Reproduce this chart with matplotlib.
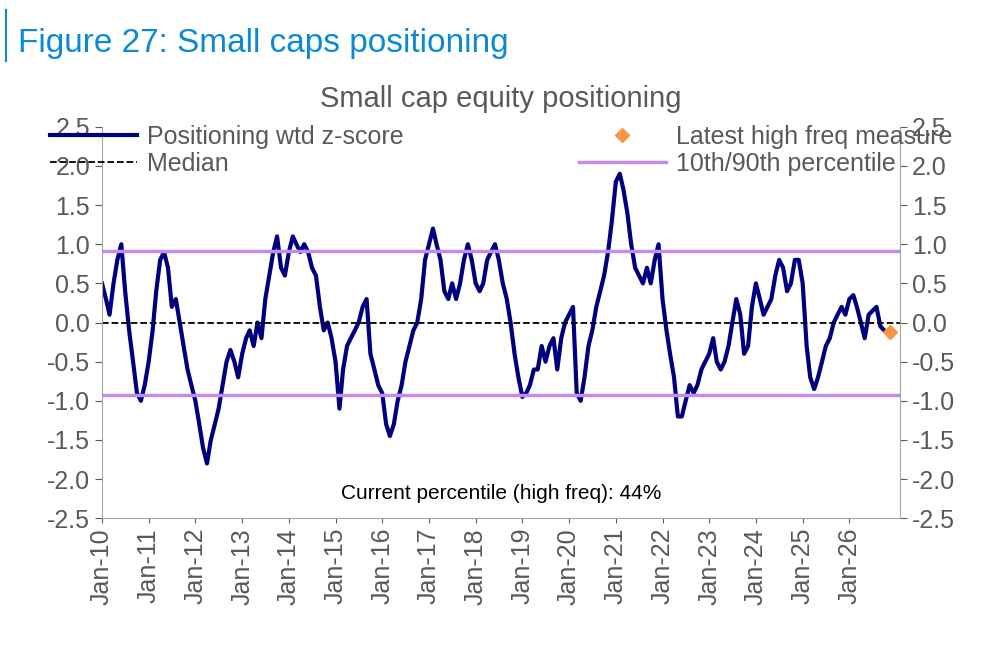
import matplotlib
matplotlib.use("Agg")
import matplotlib.pyplot as plt
import numpy as np
import datetime as dt

plt.rcParams['font.family'] = ['Liberation Sans Narrow', 'Liberation Sans', 'DejaVu Sans']

start_year = 2010
zscore = [
 0.5,0.3,0.1,0.5,0.8,1.0,0.4,-0.1,-0.5,-0.9,-1.0,-0.8,
 -0.5,-0.1,0.4,0.8,0.9,0.7,0.2,0.3,0.0,-0.3,-0.6,-0.8,
 -1.0,-1.3,-1.6,-1.8,-1.5,-1.3,-1.1,-0.8,-0.5,-0.35,-0.5,-0.7,
 -0.4,-0.2,-0.1,-0.3,0.0,-0.2,0.3,0.6,0.9,1.1,0.7,0.6,
 0.9,1.1,1.0,0.9,1.0,0.9,0.7,0.6,0.2,-0.1,0.0,-0.2,
 -0.5,-1.1,-0.6,-0.3,-0.2,-0.1,0.0,0.2,0.3,-0.4,-0.6,-0.8,
 -0.9,-1.3,-1.45,-1.3,-1.0,-0.8,-0.5,-0.3,-0.1,0.0,0.3,0.8,
 1.0,1.2,1.0,0.8,0.4,0.3,0.5,0.3,0.5,0.8,1.0,0.8,
 0.5,0.4,0.5,0.8,0.9,1.0,0.8,0.5,0.3,0.0,-0.4,-0.7,
 -0.95,-0.9,-0.8,-0.6,-0.6,-0.3,-0.5,-0.3,-0.2,-0.6,-0.2,0.0,
 0.1,0.2,-0.9,-1.0,-0.7,-0.3,-0.1,0.2,0.4,0.6,0.9,1.3,
 1.8,1.9,1.7,1.4,1.0,0.7,0.6,0.5,0.7,0.5,0.8,1.0,
 0.3,-0.1,-0.4,-0.7,-1.2,-1.2,-1.0,-0.8,-0.9,-0.8,-0.6,-0.5,
 -0.4,-0.2,-0.5,-0.6,-0.5,-0.3,0.0,0.3,0.1,-0.4,-0.3,0.2,
 0.5,0.3,0.1,0.2,0.3,0.6,0.8,0.7,0.4,0.5,0.8,0.8,
 0.5,-0.3,-0.7,-0.85,-0.7,-0.5,-0.3,-0.2,0.0,0.1,0.2,0.1,
 0.3,0.35,0.2,0.0,-0.2,0.1,0.15,0.2,-0.05,-0.1,
]
median = 0.0
pct10, pct90 = -0.92, 0.92
latest_date = dt.date(2026, 11, 15)
latest_value = -0.12
year_ticks = list(range(2010, 2027))
tick_labels = ["Jan-%02d" % (y % 100) for y in year_ticks]

dates = [dt.date(start_year + i // 12, i % 12 + 1, 1) for i in range(len(zscore))]

grey = "#595959"
fig = plt.figure(figsize=(10, 6.47), dpi=100)
fig.text(0.018, 0.92, "Figure 27: Small caps positioning", color="#0a8ad2", fontsize=24,
         family=['Liberation Sans', 'DejaVu Sans'])
fig.add_artist(plt.Line2D([0.006, 0.006], [0.905, 0.985], color="#0a8ad2", lw=1.5))

ax = fig.add_axes([0.102, 0.199, 0.798, 0.605])
ax.plot(dates, zscore, color="#00007f", lw=3, label="Positioning wtd z-score")
ax.axhline(median, color="black", ls="--", lw=1.3, label="Median")
ax.axhline(pct90, color="#c08cf0", lw=2.5, label="10th/90th percentile")
ax.axhline(pct10, color="#c08cf0", lw=2.5)
ax.plot([latest_date], [latest_value], marker="D", color="#f79646", ms=7, ls="none",
        label="Latest high freq measure")
ax.set_ylim(-2.5, 2.5)
ax.set_xlim(dt.date(2010, 1, 1), dt.date(2027, 2, 1))
ax.set_yticks(np.arange(-2.5, 2.51, 0.5))
ax.set_yticklabels(["%.1f" % v for v in np.arange(-2.5, 2.51, 0.5)])
ax.set_xticks([dt.date(y, 1, 1) for y in year_ticks])
ax.set_xticklabels(tick_labels, rotation=90)
ax.tick_params(colors=grey, labelsize=18, labelcolor=grey)
ax.tick_params(axis="y", labelright=True, right=True, length=5)
ax.spines["top"].set_visible(False)
for s in ["left", "right", "bottom"]:
    ax.spines[s].set_color("#a6a6a6")
ax.set_title("Small cap equity positioning", color=grey, fontsize=21, pad=14)
h, l = ax.get_legend_handles_labels()
order = [0, 1, 3, 2]
ax.legend([h[i] for i in order], [l[i] for i in order], ncol=2, frameon=False,
          loc="upper center", bbox_to_anchor=(0.5, 1.03), fontsize=18,
          labelcolor=grey, columnspacing=7, handlelength=3.5, handletextpad=0.4,
          borderaxespad=0, labelspacing=0.1)
ax.text(0.5, 0.05, "Current percentile (high freq): 44%", transform=ax.transAxes,
        ha="center", fontsize=15, color="black")
fig.savefig("out.png", dpi=100)
